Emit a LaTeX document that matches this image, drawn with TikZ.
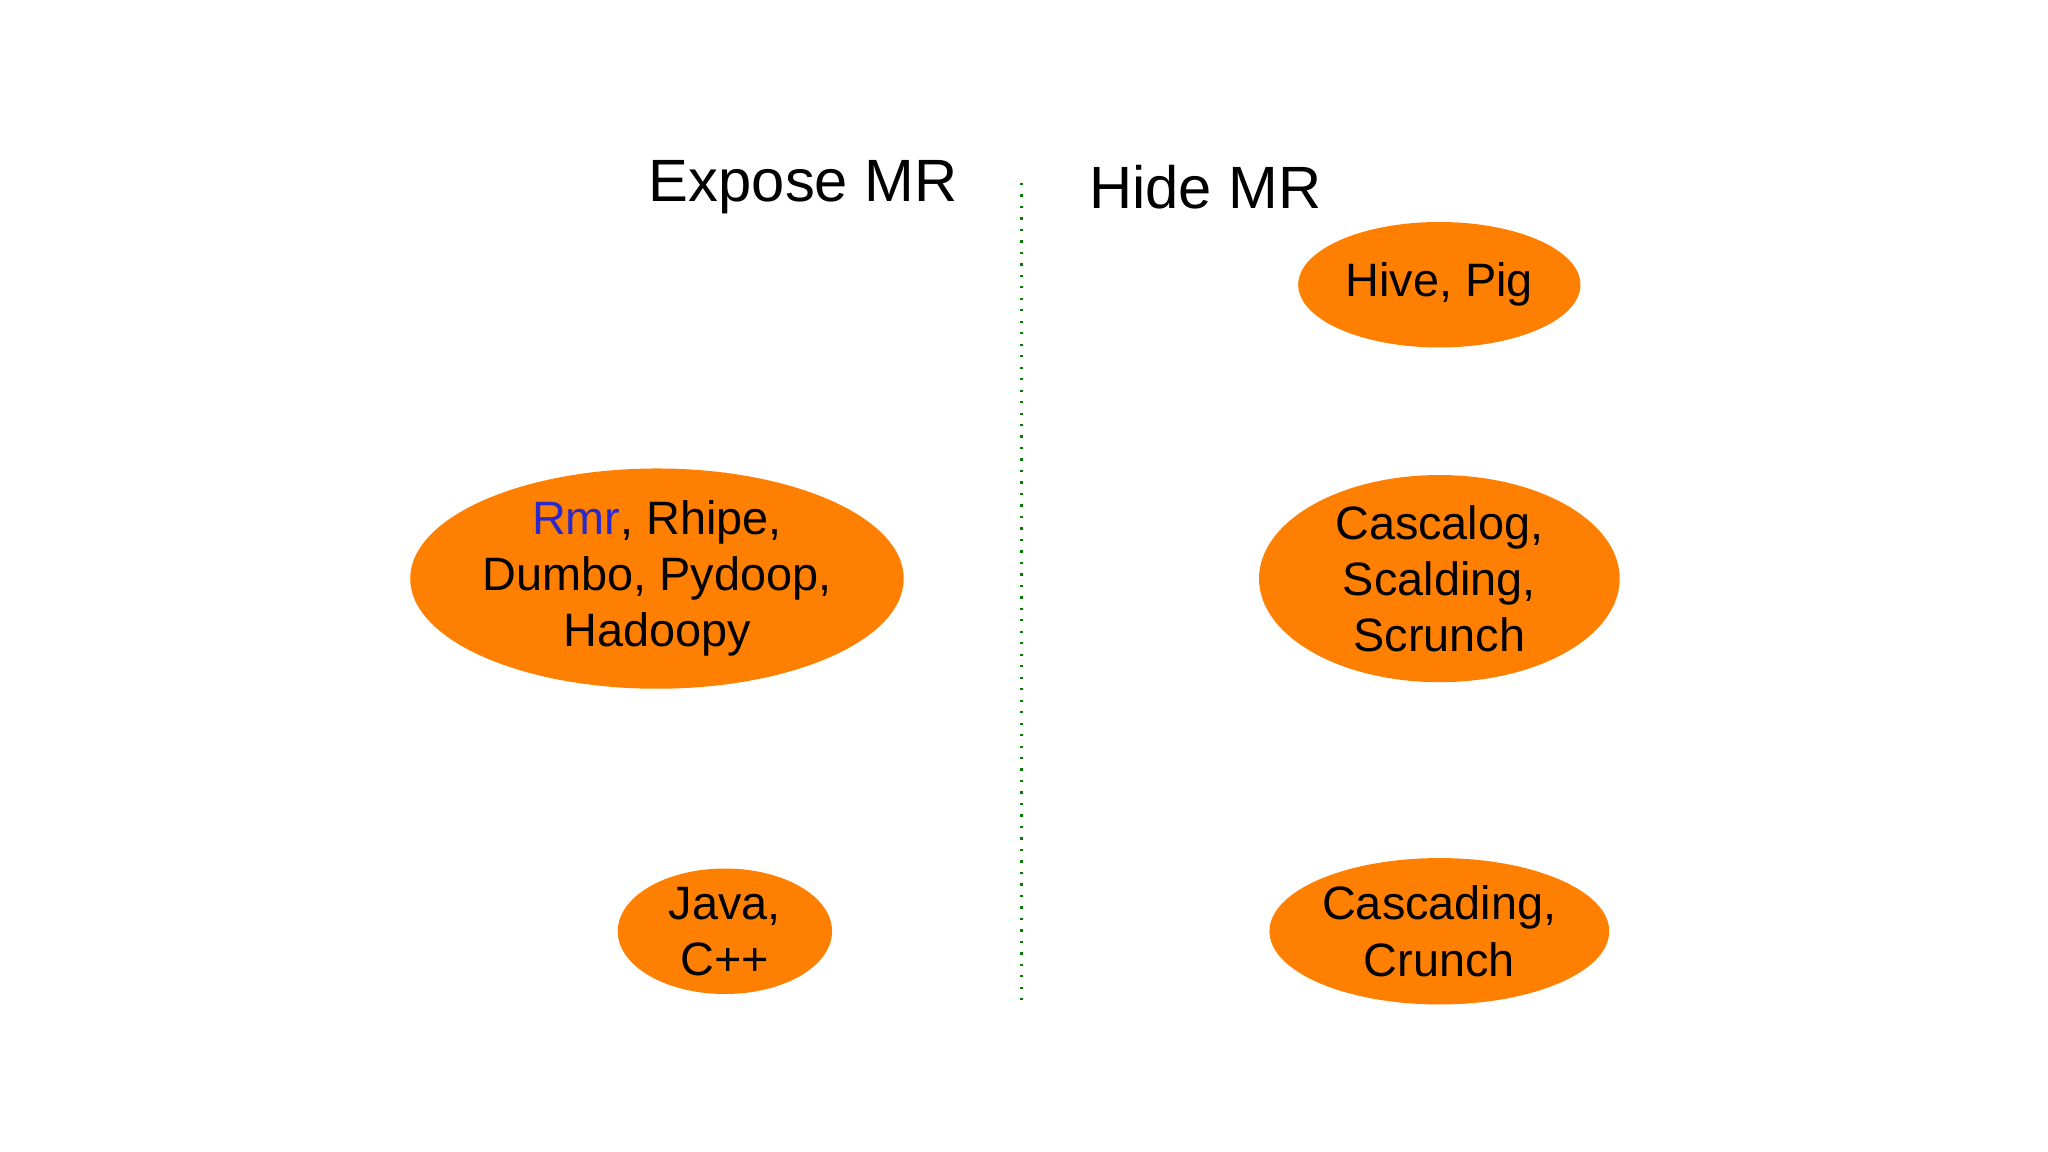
\documentclass[tikz,border=0pt]{standalone}
\usepackage{fontspec}
\setmainfont{Liberation Sans}
\usetikzlibrary{shapes.geometric}
\definecolor{org}{HTML}{FF8000}
\definecolor{rblue}{HTML}{2A2ACC}
\begin{document}
\begin{tikzpicture}[x=0.01cm,y=-0.01cm,
  blob/.style={ellipse,fill=org,draw=none,inner sep=0pt,align=center,font=\fontsize{10.2}{12.2}\selectfont},
  title/.style={font=\fontsize{13}{16}\selectfont}]
\useasboundingbox (0,0) rectangle (1568,882);
\node[title] (exp) at (615,143) {Expose MR};
\node[title] (hid) at (923,143) {Hide MR};
\coordinate (t) at (782,140);
\coordinate (b) at (782,768);
\draw[green!50!black,dotted,line width=0.5pt] (t) -- (b);
\node[blob,minimum width=2.16cm,minimum height=0.96cm] (hive) at (1102,218) {Hive, Pig};
\node[blob,minimum width=3.52cm,minimum height=1.68cm] (rmr) at (503,443) {\textcolor{rblue}{Rmr}, Rhipe,\\Dumbo, Pydoop,\\Hadoopy};
\node[blob,minimum width=2.76cm,minimum height=1.5cm] (casc) at (1102,443) {Cascalog,\\Scalding,\\Scrunch};
\node[blob,minimum width=1.64cm,minimum height=0.96cm] (java) at (555,713) {Java,\\C++};
\node[blob,minimum width=2.6cm,minimum height=1.12cm] (cascd) at (1102,713) {Cascading,\\Crunch};
\end{tikzpicture}
\end{document}
